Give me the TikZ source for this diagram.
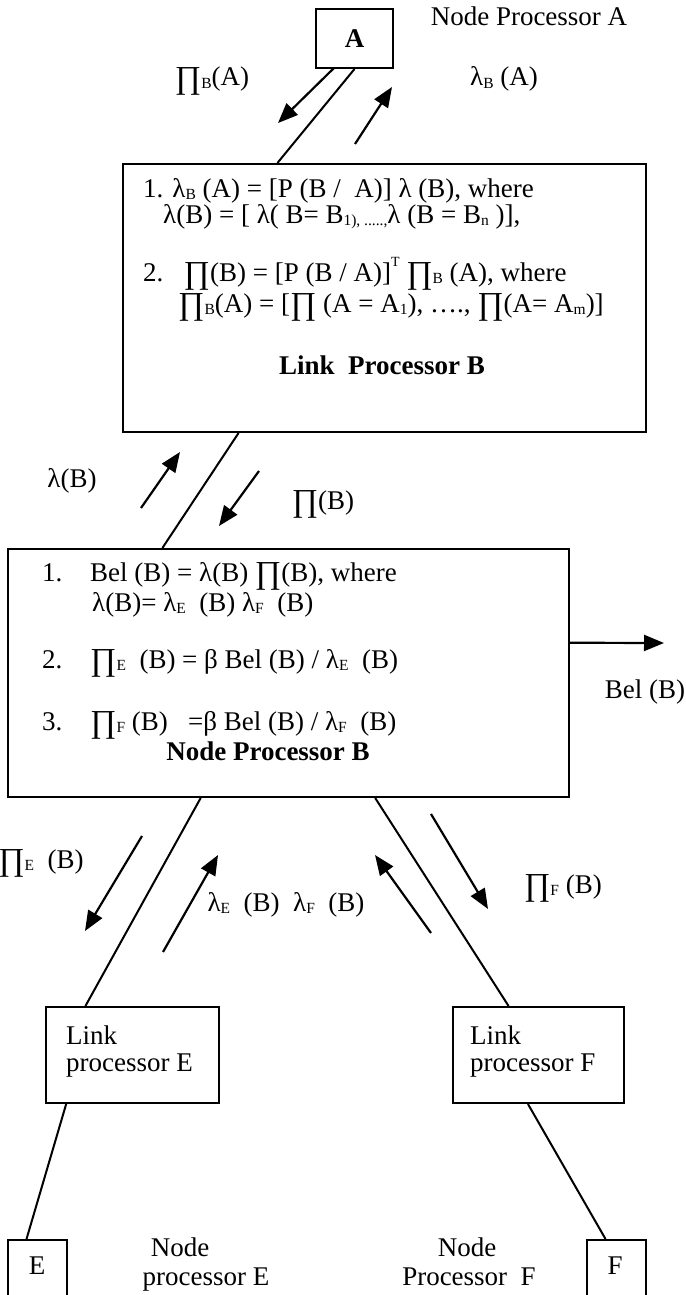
\documentclass[tikz,border=0pt]{standalone}
\usepackage{fontspec}
\setmainfont{Liberation Serif}
\usetikzlibrary{arrows.meta,calc}
\newcommand\fs{\fontsize{27}{31}\selectfont}
\newcommand\sbs[1]{\raisebox{-0.08em}{\fontsize{15.5}{15.5}\selectfont #1}}
\newcommand\sps[1]{\raisebox{0.55em}{\fontsize{14}{14}\selectfont #1}}
\newcommand\Prd{\raisebox{-0.1em}{\fontsize{32}{32}\selectfont ∏}}
\begin{document}
\begin{tikzpicture}[x=1pt,y=-1pt,
  every node/.style={font=\fs, inner sep=0pt},
  box/.style={draw, line width=2pt, inner sep=0pt},
  conn/.style={line width=2pt},
  arr/.style={line width=2.2pt, -{Triangle[length=20pt,width=16pt]}},
  lbl/.style={anchor=base west},
  ctr/.style={anchor=base}]
\useasboundingbox (0,0) rectangle (685,1295);
% boxes
\node[box, minimum width=77pt, minimum height=59pt, font=\fs\bfseries] (A) at (354.5,38.5) {A};
\node[box, minimum width=523pt, minimum height=268pt] (L) at (384.5,298) {};
\node[box, minimum width=561pt, minimum height=248pt] (N) at (288.5,673) {};
\node[box, minimum width=173pt, minimum height=96pt] (LE) at (132.5,1055) {};
\node[box, minimum width=171pt, minimum height=96pt] (LF) at (538.5,1055) {};
\node[box, minimum width=59pt, minimum height=60pt] (E) at (37.5,1270) {};
\node[box, minimum width=59pt, minimum height=60pt] (F) at (616.5,1270) {};
% connectors between boxes
\draw[conn] (A.south) -- ($(L.north west)!0.296!(L.north east)$);
\draw[conn] ($(L.south west)!0.222!(L.south east)$) -- ($(N.north west)!0.276!(N.north east)$);
\draw[conn] ($(N.south west)!0.344!(N.south east)$) -- ($(LE.north west)!0.231!(LE.north east)$);
\draw[conn] ($(N.south west)!0.654!(N.south east)$) -- ($(LF.north west)!0.327!(LF.north east)$);
\draw[conn] ($(LE.south west)!0.121!(LE.south east)$) -- ($(E.north west)!0.32!(E.north east)$);
\draw[conn] ($(LF.south west)!0.439!(LF.south east)$) -- ($(F.north west)!0.32!(F.north east)$);
\coordinate (belend) at (664,643);
\draw[arr] ($(N.north east)!0.379!(N.south east)$) -- (belend);
% free arrows
\coordinate (a1s) at (334,68);  \coordinate (a1e) at (278,123);
\coordinate (a2s) at (355,144); \coordinate (a2e) at (392,87);
\coordinate (a3s) at (141,508); \coordinate (a3e) at (180,452);
\coordinate (a4s) at (259,471); \coordinate (a4e) at (219,526);
\coordinate (a5s) at (142,836); \coordinate (a5e) at (85,931);
\coordinate (a6s) at (163,952); \coordinate (a6e) at (218,855);
\coordinate (a7s) at (431,933); \coordinate (a7e) at (375,855);
\coordinate (a8s) at (431,814); \coordinate (a8e) at (488,909);
\draw[arr] (a1s) -- (a1e);
\draw[arr] (a2s) -- (a2e);
\draw[arr] (a3s) -- (a3e);
\draw[arr] (a4s) -- (a4e);
\draw[arr] (a5s) -- (a5e);
\draw[arr] (a6s) -- (a6e);
\draw[arr] (a7s) -- (a7e);
\draw[arr] (a8s) -- (a8e);
% labels top
\node[ctr] (npa) at (529,26) {Node Processor A};
\node[ctr] (piBA) at (212,86) {\Prd\sbs{B}(A)};
\node[ctr] (lamBA) at (504,86) {λ\sbs{B} (A)};
% link processor text
\node[lbl] (l1) at (143,197) {1. λ\sbs{B} (A) = [P (B /\ \ A)] λ (B), where};
\node[lbl] (l2) at (163,223) {λ(B) = [ λ( B= B\sbs{1}\sbs{), .....,}λ (B = B\sbs{n} )],};
\node[lbl] (l3) at (143,281) {2.\ \ \ \Prd(B) = [P (B / A)]\sps{T} \Prd\sbs{B} (A), where};
\node[lbl] (l4) at (178,312) {\Prd\sbs{B}(A) = [\Prd\ (A = A\sbs{1}), …., \Prd(A= A\sbs{m})]};
\node[ctr, font=\fs\bfseries] (lpb) at (382,374) {Link\ \ Processor B};
% between link and node
\node[ctr] (lamB) at (72,487) {λ(B)};
\node[ctr] (piB) at (323,509) {\Prd(B)};
% node processor text
\node[lbl] (n1a) at (42,581) {1.};
\node[lbl] (n1) at (90,581) {Bel (B) = λ(B) \Prd(B), where};
\node[lbl] (n2) at (92,611) {λ(B)= λ\sbs{E}\ \ (B) λ\sbs{F}\ \ (B)};
\node[lbl] (n3a) at (42,668) {2.};
\node[lbl] (n3) at (90,668) {\Prd\sbs{E}\ \ (B) = β Bel (B) / λ\sbs{E}\ \ (B)};
\node[lbl] (n4a) at (42,730) {3.};
\node[lbl] (n4) at (90,730) {\Prd\sbs{F} (B)\ \ \ =β Bel (B) / λ\sbs{F}\ \ (B)};
\node[ctr, font=\fs\bfseries] (npb) at (268,760) {Node Processor B};
\node[ctr] (belB) at (645,698) {Bel (B)};
% lower labels
\node[ctr] (piEB) at (41,868) {\Prd\sbs{E}\ \ (B)};
\node[ctr] (lamEF) at (286,911) {λ\sbs{E}\ \ (B)\ \ λ\sbs{F}\ \ (B)};
\node[ctr] (piFB) at (563,893) {\Prd\sbs{F} (B)};
\node[lbl] (le1) at (66,1044) {Link};
\node[lbl] (le2) at (66,1071) {processor E};
\node[lbl] (lf1) at (470,1044) {Link};
\node[lbl] (lf2) at (470,1071) {processor F};
\node[ctr] (et) at (37,1274) {E};
\node[ctr] (ft) at (615,1274) {F};
\node[ctr] (npe1) at (180,1256) {Node};
\node[ctr] (npe2) at (206,1285) {processor E};
\node[ctr] (npf1) at (467,1256) {Node};
\node[ctr] (npf2) at (469,1285) {Processor\ \ F};
\end{tikzpicture}
\end{document}
